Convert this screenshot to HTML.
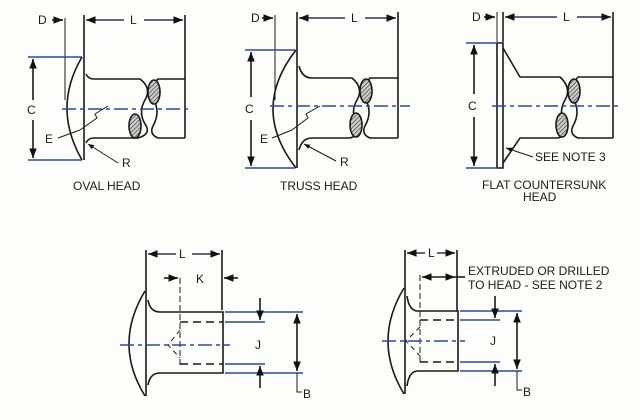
<!DOCTYPE html>
<html><head><style>
body{margin:0;background:#fdfdfb;}
svg{display:block}
text{font-family:"Liberation Sans",sans-serif;fill:#1a1a1a;}
</style></head><body>
<svg width="640" height="420" viewBox="0 0 640 420" xmlns="http://www.w3.org/2000/svg">
<defs>
<marker id="a" viewBox="0 0 10 10" refX="10" refY="5" markerWidth="6" markerHeight="6" orient="auto-start-reverse"><path d="M0,1 L10,5 L0,9 z" fill="#111"/></marker>
<pattern id="h" width="3" height="3" patternUnits="userSpaceOnUse" patternTransform="rotate(45)"><rect width="3" height="3" fill="#ccc"/><line x1="0" y1="0" x2="0" y2="3" stroke="#333" stroke-width="1.2"/></pattern>
</defs>
<g fill="none" stroke="#1a1a1a" stroke-width="1.6">
<!-- OVAL HEAD -->
<line x1="65" y1="18" x2="65" y2="100" stroke-width="1"/>
<line x1="84" y1="15" x2="84" y2="160"/>
<line x1="185" y1="15" x2="185" y2="138"/>
<line x1="52" y1="20" x2="63" y2="20" marker-end="url(#a)"/>
<line x1="86" y1="20" x2="124" y2="20" marker-start="url(#a)" stroke="#335"/>
<line x1="144" y1="20" x2="183" y2="20" marker-end="url(#a)" stroke="#335"/>
<line x1="28" y1="57" x2="82" y2="57" stroke="#2a4a9a"/>
<line x1="28" y1="160" x2="82" y2="160" stroke="#2a4a9a"/>
<line x1="33" y1="59" x2="33" y2="100" marker-start="url(#a)"/>
<line x1="33" y1="120" x2="33" y2="158" marker-end="url(#a)"/>
<path d="M82,57 Q52,108 82,160"/>
<path d="M86,74 Q88,79 94,79 L140,79 Q152,88 145,100 Q138,112 145,124 Q152,134 138,138 L94,138 Q88,138 86,143"/>
<path d="M185,79 L158,79 Q148,88 154,100 Q160,112 154,124 Q148,134 158,138 L185,138"/>
<ellipse cx="154" cy="92" rx="6" ry="12" fill="url(#h)"/>
<ellipse cx="135" cy="126" rx="6" ry="12" fill="url(#h)"/>
<line x1="62" y1="109" x2="190" y2="109" stroke="#2a4a9a" stroke-dasharray="14,4,4,4"/>
<path d="M80,130 L97,118 L95,114 L108,106" stroke-width="1"/>
<line x1="58" y1="138" x2="80" y2="130" stroke-width="1"/>
<line x1="118" y1="163" x2="88" y2="144" marker-end="url(#a)" stroke-width="1"/>
<!-- TRUSS HEAD -->
<line x1="275" y1="15" x2="275" y2="100" stroke-width="1"/>
<line x1="297" y1="12" x2="297" y2="168"/>
<line x1="398" y1="12" x2="398" y2="138"/>
<line x1="262" y1="18" x2="273" y2="18" marker-end="url(#a)"/>
<line x1="299" y1="18" x2="345" y2="18" marker-start="url(#a)" stroke="#335"/>
<line x1="365" y1="18" x2="396" y2="18" marker-end="url(#a)" stroke="#335"/>
<line x1="245" y1="50" x2="295" y2="50" stroke="#2a4a9a"/>
<line x1="245" y1="168" x2="295" y2="168" stroke="#2a4a9a"/>
<line x1="251" y1="52" x2="251" y2="97" marker-start="url(#a)"/>
<line x1="251" y1="120" x2="251" y2="166" marker-end="url(#a)"/>
<path d="M296,50 Q250,109 296,168"/>
<path d="M299,66 Q302,78 312,78 L352,78 Q364,88 357,100 Q350,112 357,124 Q364,134 350,138 L312,138 Q302,138 299,150"/>
<path d="M398,78 L370,78 Q360,88 366,100 Q372,112 366,124 Q360,134 370,138 L398,138"/>
<ellipse cx="366" cy="91" rx="6" ry="12" fill="url(#h)"/>
<ellipse cx="356" cy="125" rx="6" ry="12" fill="url(#h)"/>
<line x1="270" y1="106" x2="410" y2="106" stroke="#2a4a9a" stroke-dasharray="14,4,4,4"/>
<path d="M292,130 L308,118 L306,114 L320,106" stroke-width="1"/>
<line x1="272" y1="138" x2="292" y2="130" stroke-width="1"/>
<line x1="336" y1="161" x2="304" y2="144" marker-end="url(#a)" stroke-width="1"/>
<!-- FLAT COUNTERSUNK -->
<line x1="497" y1="12" x2="497" y2="42" stroke-width="1"/>
<line x1="503" y1="12" x2="503" y2="42"/>
<line x1="613" y1="12" x2="613" y2="138"/>
<line x1="484" y1="17" x2="495" y2="17" marker-end="url(#a)"/>
<line x1="505" y1="17" x2="557" y2="17" marker-start="url(#a)" stroke="#335"/>
<line x1="577" y1="17" x2="611" y2="17" marker-end="url(#a)" stroke="#335"/>
<line x1="466" y1="43" x2="496" y2="43" stroke="#2a4a9a"/>
<line x1="466" y1="168" x2="496" y2="168" stroke="#2a4a9a"/>
<line x1="474" y1="45" x2="474" y2="94" marker-start="url(#a)"/>
<line x1="474" y1="117" x2="474" y2="166" marker-end="url(#a)"/>
<path d="M497,43 L503,43 L503,168 L497,168 Z"/>
<path d="M503,48 L520,77 L560,77 Q572,88 565,100 Q558,112 565,124 Q572,134 558,138 L520,138 L503,163"/>
<path d="M613,77 L578,77 Q568,88 574,100 Q580,112 574,124 Q568,134 578,138 L613,138"/>
<ellipse cx="574" cy="91" rx="6" ry="12" fill="url(#h)"/>
<ellipse cx="562" cy="125" rx="6" ry="12" fill="url(#h)"/>
<line x1="492" y1="106" x2="620" y2="106" stroke="#2a4a9a" stroke-dasharray="14,4,4,4"/>
<line x1="533" y1="157" x2="506" y2="148" marker-end="url(#a)" stroke-width="1"/>
<!-- BOTTOM LEFT -->
<line x1="146" y1="250" x2="146" y2="396"/>
<line x1="222" y1="250" x2="222" y2="310"/>
<line x1="148" y1="254" x2="176" y2="254" marker-start="url(#a)" stroke="#335"/>
<line x1="192" y1="254" x2="220" y2="254" marker-end="url(#a)" stroke="#335"/>
<line x1="164" y1="278" x2="178" y2="278" marker-end="url(#a)"/>
<line x1="238" y1="278" x2="224" y2="278" marker-end="url(#a)"/>
<line x1="180" y1="278" x2="180" y2="365" stroke-dasharray="6,3" stroke-width="1"/>
<path d="M145,291 Q113,344 145,396"/>
<path d="M148,300 Q150,312 160,312 L223,312 L223,373 L160,373 Q150,373 148,385"/>
<line x1="180" y1="322" x2="223" y2="322" stroke-dasharray="8,5"/>
<line x1="180" y1="364" x2="223" y2="364" stroke-dasharray="8,5"/>
<path d="M180,330 L168,345 L180,358" stroke-dasharray="5,4" stroke-width="1"/>
<line x1="120" y1="345" x2="230" y2="345" stroke="#2a4a9a" stroke-dasharray="14,4,4,4"/>
<line x1="225" y1="312" x2="303" y2="312" stroke="#2a4a9a"/>
<line x1="225" y1="322" x2="265" y2="322" stroke="#2a4a9a"/>
<line x1="225" y1="364" x2="265" y2="364" stroke="#2a4a9a"/>
<line x1="225" y1="373" x2="303" y2="373" stroke="#2a4a9a"/>
<line x1="260" y1="298" x2="260" y2="320" marker-end="url(#a)"/>
<line x1="260" y1="388" x2="260" y2="366" marker-end="url(#a)"/>
<line x1="297" y1="314" x2="297" y2="371" marker-start="url(#a)" marker-end="url(#a)"/>
<polyline points="297,373 297,392 302,392" stroke-width="1"/>
<!-- BOTTOM RIGHT -->
<line x1="405" y1="250" x2="405" y2="394"/>
<line x1="457" y1="250" x2="457" y2="311"/>
<line x1="420" y1="275" x2="420" y2="363" stroke-dasharray="6,3" stroke-width="1"/>
<line x1="407" y1="253" x2="425" y2="253" marker-start="url(#a)" stroke="#335"/>
<line x1="437" y1="253" x2="455" y2="253" marker-end="url(#a)" stroke="#335"/>
<line x1="422" y1="277" x2="455" y2="277" marker-start="url(#a)" marker-end="url(#a)"/>
<line x1="455" y1="277" x2="465" y2="277"/>
<path d="M404,288 Q372,341 404,394"/>
<path d="M407,296 Q409,311 418,311 L458,311 L458,371 L418,371 Q409,371 407,386"/>
<line x1="420" y1="320" x2="458" y2="320" stroke-dasharray="8,5"/>
<line x1="420" y1="362" x2="458" y2="362" stroke-dasharray="8,5"/>
<path d="M420,327 L406,341 L420,356" stroke-dasharray="5,4" stroke-width="1"/>
<line x1="382" y1="341" x2="465" y2="341" stroke="#2a4a9a" stroke-dasharray="14,4,4,4"/>
<line x1="460" y1="311" x2="522" y2="311" stroke="#2a4a9a"/>
<line x1="460" y1="320" x2="500" y2="320" stroke="#2a4a9a"/>
<line x1="460" y1="362" x2="500" y2="362" stroke="#2a4a9a"/>
<line x1="460" y1="371" x2="522" y2="371" stroke="#2a4a9a"/>
<line x1="495" y1="296" x2="495" y2="318" marker-end="url(#a)"/>
<line x1="495" y1="386" x2="495" y2="364" marker-end="url(#a)"/>
<line x1="517" y1="313" x2="517" y2="369" marker-start="url(#a)" marker-end="url(#a)"/>
<polyline points="517,371 517,390 522,390" stroke-width="1"/>
</g>
<g font-size="12">
<text x="38" y="24">D</text>
<text x="130" y="24">L</text>
<text x="27" y="114">C</text>
<text x="45" y="143">E</text>
<text x="122" y="167">R</text>
<text x="73" y="190">OVAL HEAD</text>
<text x="251" y="22">D</text>
<text x="351" y="22">L</text>
<text x="245" y="113">C</text>
<text x="260" y="143">E</text>
<text x="340" y="166">R</text>
<text x="280" y="190">TRUSS HEAD</text>
<text x="472" y="21">D</text>
<text x="563" y="21">L</text>
<text x="468" y="110">C</text>
<text x="535" y="161">SEE NOTE 3</text>
<text x="482" y="189">FLAT COUNTERSUNK</text>
<text x="523" y="201">HEAD</text>
<text x="179" y="258">L</text>
<text x="196" y="283">K</text>
<text x="255" y="349">J</text>
<text x="303" y="398">B</text>
<text x="428" y="257">L</text>
<text x="468" y="275">EXTRUDED OR DRILLED</text>
<text x="468" y="289">TO HEAD - SEE NOTE 2</text>
<text x="490" y="345">J</text>
<text x="523" y="396">B</text>
</g>
</svg>
</body></html>
